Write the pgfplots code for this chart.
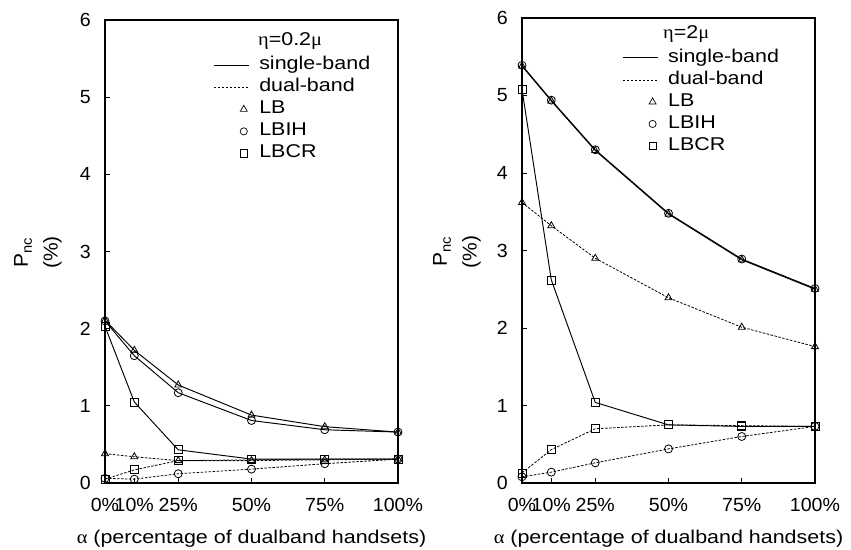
\documentclass[border=0pt]{standalone}
\usepackage{fontspec}
\setmainfont{Liberation Sans}[Scale=1.85, FakeStretch=1.16]
\newfontfamily\tickfont{Liberation Sans}[Scale=1.9, FakeStretch=1.03]
\newfontfamily\ylabfont{Liberation Sans}[Scale=2.0, FakeStretch=1.05]
\newfontfamily\grk{Liberation Serif}[Scale=1.85, FakeStretch=1.1]
\usepackage{pgfplots}
\pgfplotsset{compat=1.18}

\pgfplotstableread{
x   sLB   sLBIH  sLBCR  dLB   dLBIH  dLBCR
0   2.11  2.10   2.03   0.38  0.06   0.05
10  1.72  1.65   1.05   0.34  0.05   0.17
25  1.27  1.17   0.43   0.29  0.12   0.29
50  0.88  0.81   0.31   0.29  0.18   0.30
75  0.73  0.69   0.31   0.30  0.25   0.31
100 0.66  0.66   0.31   0.31  0.31   0.31
}\lefttab

\pgfplotstableread{
x   sLB   sLBIH  sLBCR  dLB   dLBIH  dLBCR
0   5.38  5.39   5.08   3.62  0.08   0.13
10  4.93  4.94   2.62   3.32  0.14   0.43
25  4.29  4.30   1.04   2.90  0.26   0.70
50  3.47  3.48   0.75   2.39  0.44   0.75
75  2.88  2.89   0.73   2.01  0.60   0.74
100 2.50  2.51   0.73   1.76  0.73   0.73
}\righttab

\pgfplotsset{
  panel/.style={
    scale only axis,
    xmin=0, xmax=100, ymin=0, ymax=6,
    xtick={0,10,25,50,75,100},
    xticklabels={0\%,10\%,25\%,50\%,75\%,100\%},
    ytick={0,1,2,3,4,5,6},
    tick align=inside, xtick pos=left, ytick pos=left,
    major tick length=5pt,
    axis line style={line width=1.1pt},
    every tick/.style={line width=0.8pt, black},
    /pgf/number format/assume math mode=true,
    tick label style={font=\tickfont},
    xticklabel style={anchor=base, inner sep=0pt, yshift=-28pt},
    yticklabel style={anchor=east, inner sep=0pt, xshift=-14pt},
    xlabel={{\grk α} (percentage of dualband handsets)},
    ylabel={P\textsubscript{nc}\\[10pt](\%)},
    ylabel style={align=center, anchor=center, font=\ylabfont},
    legend style={draw=none, fill=none, inner sep=0pt, anchor=north west,
      row sep=3pt, column sep=9pt,
      nodes={inner sep=1pt, text height=13pt, text depth=4pt}},
    legend cell align=left,
  },
  sb/.style={line width=0.95pt, black, solid, mark size=4pt, mark options={solid, line width=0.8pt}},
  db/.style={line width=0.8pt, black, dash pattern=on 2.5pt off 1.5pt, mark size=4pt, mark options={solid, line width=0.8pt}},
  legline/.style={legend image code/.code={\draw[##1] (0pt,0pt) -- (35pt,0pt);}},
  legmark/.style={legend image code/.code={\draw[##1, only marks] plot coordinates {(30pt,0pt)};}},
}

\begin{document}
\begin{tikzpicture}
\path[use as bounding box] (0,0) rectangle (851pt,549pt);

\begin{axis}[panel, at={(105pt,66pt)}, anchor=south west, width=293pt, height=463pt,
  xlabel style={at={(axis description cs:0.5,-0.131)}, anchor=base},
  ylabel style={at={(axis description cs:-0.229,0.498)}},
  legend style={at={(axis description cs:0.369,0.923)}}]
\addplot[sb, mark=triangle, forget plot] table[x=x, y=sLB] {\lefttab};
\addplot[sb, mark=o, forget plot] table[x=x, y=sLBIH] {\lefttab};
\addplot[sb, mark=square, forget plot] table[x=x, y=sLBCR] {\lefttab};
\addplot[db, mark=triangle, forget plot] table[x=x, y=dLB] {\lefttab};
\addplot[db, mark=o, forget plot] table[x=x, y=dLBIH] {\lefttab};
\addplot[db, mark=square, forget plot] table[x=x, y=dLBCR] {\lefttab};
\node[anchor=base west, inner sep=0pt] at (axis description cs:0.522,0.944) {{\grk η}={}0.2{\grk μ}};
\addlegendimage{legline, sb}
\addlegendentry{single-band}
\addlegendimage{legline, db}
\addlegendentry{dual-band}
\addlegendimage{legmark, black, mark=triangle, mark size=4pt, line width=0.7pt}
\addlegendentry{LB}
\addlegendimage{legmark, black, mark=o, mark size=3.6pt, line width=0.7pt}
\addlegendentry{LBIH}
\addlegendimage{legmark, black, mark=square, mark size=3.6pt, line width=0.7pt}
\addlegendentry{LBCR}
\end{axis}

\begin{axis}[panel, at={(522pt,66pt)}, anchor=south west, width=293pt, height=465pt,
  xlabel style={at={(axis description cs:0.5,-0.1305)}, anchor=base},
  ylabel style={at={(axis description cs:-0.222,0.497)}},
  legend style={at={(axis description cs:0.341,0.935)}}]
\addplot[sb, mark=triangle, forget plot] table[x=x, y=sLB] {\righttab};
\addplot[sb, mark=o, forget plot] table[x=x, y=sLBIH] {\righttab};
\addplot[sb, mark=square, forget plot] table[x=x, y=sLBCR] {\righttab};
\addplot[db, mark=triangle, forget plot] table[x=x, y=dLB] {\righttab};
\addplot[db, mark=o, forget plot] table[x=x, y=dLBIH] {\righttab};
\addplot[db, mark=square, forget plot] table[x=x, y=dLBCR] {\righttab};
\node[anchor=base west, inner sep=0pt] at (axis description cs:0.481,0.955) {{\grk η}={}2{\grk μ}};
\addlegendimage{legline, sb}
\addlegendentry{single-band}
\addlegendimage{legline, db}
\addlegendentry{dual-band}
\addlegendimage{legmark, black, mark=triangle, mark size=4pt, line width=0.7pt}
\addlegendentry{LB}
\addlegendimage{legmark, black, mark=o, mark size=3.6pt, line width=0.7pt}
\addlegendentry{LBIH}
\addlegendimage{legmark, black, mark=square, mark size=3.6pt, line width=0.7pt}
\addlegendentry{LBCR}
\end{axis}
\end{tikzpicture}
\end{document}
